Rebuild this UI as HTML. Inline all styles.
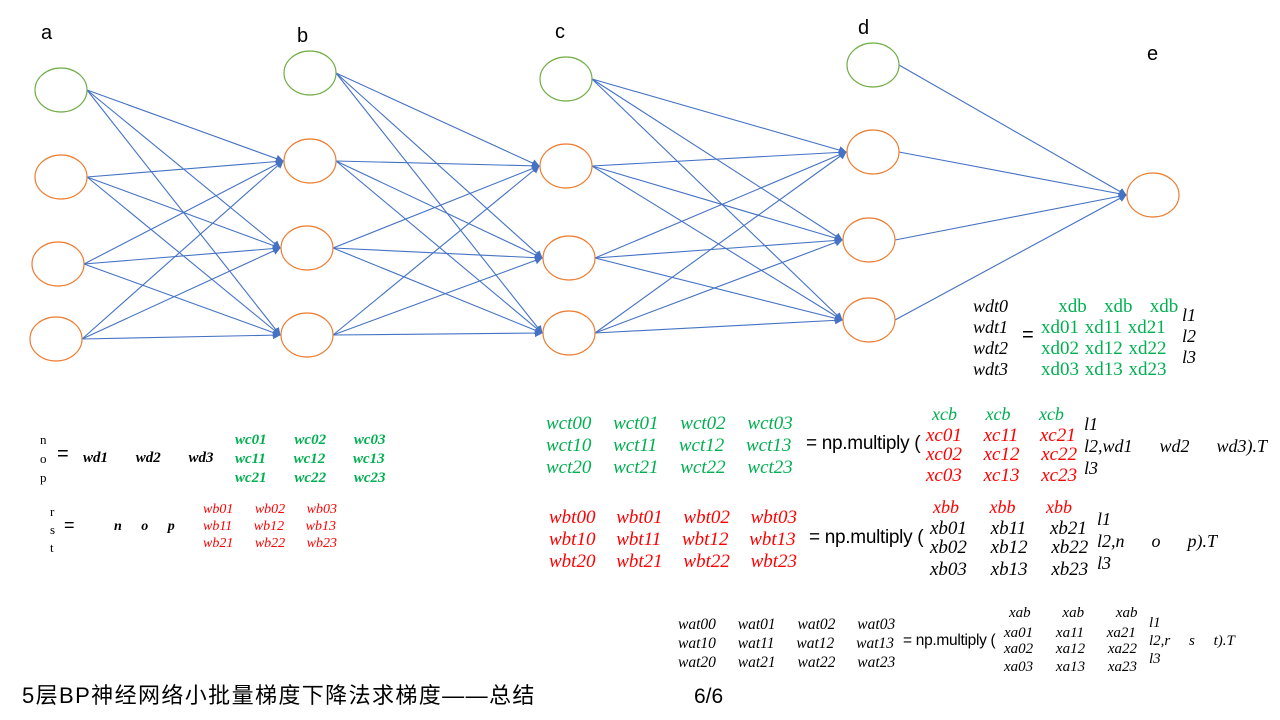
<!DOCTYPE html>
<html><head><meta charset="utf-8"><style>
body{margin:0;width:1280px;height:720px;background:#fff;overflow:hidden;position:relative;font-family:"Liberation Sans","Noto Sans CJK SC",sans-serif}
.t{position:absolute;white-space:nowrap;line-height:1}
.m{font-family:"Liberation Serif",serif;font-style:italic}
.s{font-family:"Liberation Serif",serif}
.g{color:#00b050}.r{color:#ff0000}.k{color:#000}
.b{font-weight:bold}
</style></head><body>
<svg id="sv" width="1280" height="720" style="position:absolute;left:0;top:0">
<defs><marker id="ar" markerWidth="8" markerHeight="8" refX="7" refY="4" orient="auto" markerUnits="userSpaceOnUse"><path d="M0,0 L8,4 L0,8 z" fill="#4472c4"/></marker></defs>
<g id="lines" stroke="#4472c4" stroke-width="1.1" fill="none"></g>
<g id="nodes" fill="#fff" stroke-width="1.2"></g>
<g font-family="Liberation Sans" font-size="20" fill="#000">
<text x="41" y="39">a</text><text x="297" y="42">b</text><text x="555" y="38">c</text><text x="858" y="34">d</text><text x="1147" y="60">e</text>
</g>
</svg>
<script>
var L=[[[61,90],[61,177],[58,264],[56,339]],[[310,73],[310,161],[307,248],[307,335]],[[566,79],[566,166],[569,258],[569,333]],[[873,65],[873,152],[869,240],[869,320]],[[1153,195]]];
var rx=26,ry=22,ns="http://www.w3.org/2000/svg";
var lg=document.getElementById('lines'),ng=document.getElementById('nodes');
for(var i=0;i<4;i++){var A=L[i],B=L[i+1];var tg=(i<3)?B.slice(1):B;
A.forEach(function(p){tg.forEach(function(q){var l=document.createElementNS(ns,'line');l.setAttribute('x1',p[0]+rx);l.setAttribute('y1',p[1]);l.setAttribute('x2',q[0]-rx-1);l.setAttribute('y2',q[1]);l.setAttribute('marker-end','url(#ar)');lg.appendChild(l);});});}
L.forEach(function(A,i){A.forEach(function(p,j){var e=document.createElementNS(ns,'ellipse');e.setAttribute('cx',p[0]);e.setAttribute('cy',p[1]);e.setAttribute('rx',rx);e.setAttribute('ry',ry);e.setAttribute('stroke',(j==0&&i<4)?'#70ad47':'#ed7d31');ng.appendChild(e);});});
</script>

<!-- wdt block -->
<div class="t m k" style="left:973px;top:296px;font-size:18px;line-height:21px">wdt0<br>wdt1<br>wdt2<br>wdt3</div>
<div class="t k" style="left:1022px;top:325px;font-size:20px">=</div>
<div class="t s g" style="left:1041px;top:296px;font-size:19px;line-height:21px;word-spacing:1px">&nbsp;&nbsp;&nbsp;xdb&nbsp;&nbsp;&nbsp;xdb&nbsp;&nbsp;&nbsp;xdb<br>xd01 xd11 xd21<br>xd02 xd12 xd22<br>xd03 xd13 xd23</div>
<div class="t m k" style="left:1182px;top:305px;font-size:18px;line-height:21px">l1<br>l2<br>l3</div>

<!-- nop block -->
<div class="t s k" style="left:40px;top:430px;font-size:13px;line-height:19px">n<br>o<br>p</div>
<div class="t k" style="left:57px;top:444px;font-size:20px">=</div>
<div class="t m b k" style="left:83px;top:451px;font-size:15px;word-spacing:24px">wd1 wd2 wd3</div>
<div class="t m b g" style="left:235px;top:431px;font-size:15px;line-height:19px;word-spacing:24px">wc01 wc02 wc03<br>wc11 wc12 wc13<br>wc21 wc22 wc23</div>
<div class="t s k" style="left:50px;top:503px;font-size:13px;line-height:18px">r<br>s<br>t</div>
<div class="t k" style="left:64px;top:516px;font-size:18px">=</div>
<div class="t m b k" style="left:114px;top:520px;font-size:14px;word-spacing:16px">n o p</div>
<div class="t m r" style="left:203px;top:501px;font-size:14px;line-height:17px;word-spacing:18px">wb01 wb02 wb03<br>wb11 wb12 wb13<br>wb21 wb22 wb23</div>

<!-- wct block -->
<div class="t m g" style="left:546px;top:413px;font-size:19px;line-height:22px;word-spacing:17px">wct00 wct01 wct02 wct03<br>wct10 wct11 wct12 wct13<br>wct20 wct21 wct22 wct23</div>
<div class="t k" style="left:806px;top:434px;font-size:19px;letter-spacing:-0.3px">= np.multiply (</div>
<div class="t m g" style="left:932px;top:405px;font-size:18px;word-spacing:24px">xcb xcb xcb</div>
<div class="t m r" style="left:926px;top:426px;font-size:19px;line-height:19px;word-spacing:17px">xc01 xc11 xc21<br>xc02 xc12 xc22</div>
<div class="t m r" style="left:926px;top:466px;font-size:19px;word-spacing:17px">xc03 xc13 xc23</div>
<div class="t m k" style="left:1084px;top:413px;font-size:18px;line-height:22px">l1<br>l2,wd1&nbsp;&nbsp;&nbsp;&nbsp;&nbsp;&nbsp;wd2&nbsp;&nbsp;&nbsp;&nbsp;&nbsp;&nbsp;wd3).T<br>l3</div>

<!-- wbt block -->
<div class="t m r" style="left:549px;top:507px;font-size:19px;line-height:22px;word-spacing:16px">wbt00 wbt01 wbt02 wbt03<br>wbt10 wbt11 wbt12 wbt13<br>wbt20 wbt21 wbt22 wbt23</div>
<div class="t k" style="left:809px;top:528px;font-size:19px;letter-spacing:-0.3px">= np.multiply (</div>
<div class="t m r" style="left:933px;top:498px;font-size:18px;word-spacing:26px">xbb xbb xbb</div>
<div class="t m k" style="left:930px;top:519px;font-size:19px;line-height:19px;word-spacing:19px">xb01 xb11 xb21<br>xb02 xb12 xb22</div>
<div class="t m k" style="left:930px;top:560px;font-size:19px;word-spacing:19px">xb03 xb13 xb23</div>
<div class="t m k" style="left:1097px;top:508px;font-size:18px;line-height:22px">l1<br>l2,n&nbsp;&nbsp;&nbsp;&nbsp;&nbsp;&nbsp;o&nbsp;&nbsp;&nbsp;&nbsp;&nbsp;&nbsp;p).T<br>l3</div>

<!-- wat block -->
<div class="t m k" style="left:678px;top:615px;font-size:15.5px;line-height:19px;word-spacing:18px">wat00 wat01 wat02 wat03<br>wat10 wat11 wat12 wat13<br>wat20 wat21 wat22 wat23</div>
<div class="t k" style="left:903px;top:633px;font-size:15.5px;letter-spacing:-0.3px">= np.multiply (</div>
<div class="t m k" style="left:1009px;top:606px;font-size:15px;word-spacing:28px">xab xab xab</div>
<div class="t m k" style="left:1004px;top:625px;font-size:15px;line-height:16px;word-spacing:19px">xa01 xa11 xa21<br>xa02 xa12 xa22</div>
<div class="t m k" style="left:1004px;top:660px;font-size:15px;word-spacing:19px">xa03 xa13 xa23</div>
<div class="t m k" style="left:1149px;top:614px;font-size:15px;line-height:18px">l1<br>l2,r&nbsp;&nbsp;&nbsp;&nbsp;&nbsp;s&nbsp;&nbsp;&nbsp;&nbsp;&nbsp;t).T<br>l3</div>

<div class="t k" style="left:22px;top:685px;font-size:22px;letter-spacing:1.4px">5层BP神经网络小批量梯度下降法求梯度——总结</div>
<div class="t k" style="left:694px;top:686px;font-size:21px">6/6</div>
</body></html>
